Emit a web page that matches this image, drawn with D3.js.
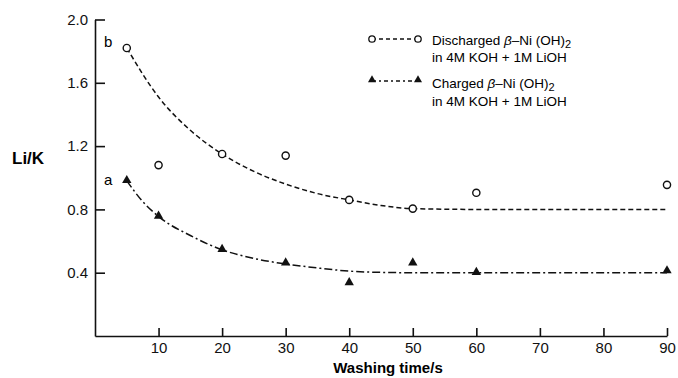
<!DOCTYPE html>
<html>
<head>
<meta charset="utf-8">
<script src="https://cdn.jsdelivr.net/npm/d3@7"></script>
<style>
    body { margin: 0; background: #fff; }
    svg { display: block; font-family: "Liberation Sans", Arial, sans-serif; }
    .axis path, .axis line { stroke: #111; stroke-width: 1.6; }
    .axis text { font-size: 15px; fill: #111; }
</style>
</head>
<body>
<script>
// washing time (s)
const times = [5, 10, 20, 30, 40, 50, 60, 90];
// Li/K ratios
const discharged = [1.82, 1.08, 1.15, 1.14, 0.86, 0.805, 0.905, 0.955];
const charged = [0.98, 0.755, 0.545, 0.46, 0.335, 0.46, 0.40, 0.41];

// hand-drawn fitted curves
const fitTimesB = [5, 10, 15, 20, 25, 30, 35, 40, 45, 50, 60, 90];
const fitB = [1.82, 1.51, 1.30, 1.15, 1.04, 0.96, 0.90, 0.86, 0.825, 0.805, 0.80, 0.80];
const fitTimesA = [5, 7.5, 10, 15, 20, 25, 30, 35, 40, 45, 50, 60, 90];
const fitA = [0.98, 0.85, 0.755, 0.635, 0.545, 0.49, 0.455, 0.43, 0.41, 0.402, 0.40, 0.40, 0.40];

const xTicks = [10, 20, 30, 40, 50, 60, 70, 80, 90];
const yTicks = [0.4, 0.8, 1.2, 1.6, 2.0];

const width = 678, height = 378;

const svg = d3.select('body')
    .append('svg')
    .attr('width', width)
    .attr('height', height);

const x = d3.scaleLinear().domain([0, 90]).range([95, 667]);
const y = d3.scaleLinear().domain([0, 2]).range([336, 19.5]);

// axes
svg.append('g')
    .attr('class', 'axis')
    .attr('transform', `translate(0,${y(0)})`)
    .call(d3.axisBottom(x).tickValues(xTicks).tickFormat(d3.format('d'))
        .tickSizeInner(-8).tickSizeOuter(0).tickPadding(6));

svg.append('g')
    .attr('class', 'axis')
    .attr('transform', `translate(${x(0)},0)`)
    .call(d3.axisLeft(y).tickValues(yTicks).tickFormat(d3.format('.1f'))
        .tickSizeInner(-10).tickSizeOuter(0).tickPadding(7));

// fitted curves
const line = d3.line()
    .x(d => x(d[0]))
    .y(d => y(d[1]))
    .curve(d3.curveMonotoneX);

svg.append('path')
    .attr('d', line(d3.zip(fitTimesB, fitB)))
    .attr('fill', 'none')
    .attr('stroke', '#111')
    .attr('stroke-width', 1.5)
    .attr('stroke-dasharray', '5,3');

svg.append('path')
    .attr('d', line(d3.zip(fitTimesA, fitA)))
    .attr('fill', 'none')
    .attr('stroke', '#111')
    .attr('stroke-width', 1.5)
    .attr('stroke-dasharray', '8,3,2,3');

// markers
const tri = d3.symbol().type(d3.symbolTriangle).size(38);

svg.append('g').selectAll('circle')
    .data(d3.zip(times, discharged))
    .enter().append('circle')
    .attr('cx', d => x(d[0]))
    .attr('cy', d => y(d[1]))
    .attr('r', 3.6)
    .attr('fill', '#fff')
    .attr('stroke', '#111')
    .attr('stroke-width', 1.4);

svg.append('g').selectAll('path')
    .data(d3.zip(times, charged))
    .enter().append('path')
    .attr('d', tri)
    .attr('transform', d => `translate(${x(d[0])},${y(d[1]) - 0.5})`)
    .attr('fill', '#111');

// curve labels
svg.append('text').attr('x', 104).attr('y', 47)
    .style('font-size', '15px').text('b');
svg.append('text').attr('x', 104).attr('y', 185)
    .style('font-size', '15px').text('a');

// axis titles
svg.append('text')
    .attr('x', 12).attr('y', 164)
    .style('font-size', '17px').style('font-weight', 'bold')
    .text('Li/K');

svg.append('text')
    .attr('x', 388).attr('y', 373)
    .attr('text-anchor', 'middle')
    .style('font-size', '15px').style('font-weight', 'bold')
    .text('Washing time/s');

// legend
const legend = svg.append('g').style('font-size', '13.5px');

legend.append('line')
    .attr('x1', 372).attr('x2', 418).attr('y1', 39).attr('y2', 39)
    .attr('stroke', '#111').attr('stroke-width', 1.4)
    .attr('stroke-dasharray', '4,3');
[372, 418].forEach(cx => legend.append('circle')
    .attr('cx', cx).attr('cy', 39).attr('r', 3.2)
    .attr('fill', '#fff').attr('stroke', '#111').attr('stroke-width', 1.3));

legend.append('line')
    .attr('x1', 372).attr('x2', 418).attr('y1', 81).attr('y2', 81)
    .attr('stroke', '#111').attr('stroke-width', 1.4)
    .attr('stroke-dasharray', '4,3,2,3');
[372, 418].forEach(cx => legend.append('path')
    .attr('d', d3.symbol().type(d3.symbolTriangle).size(28))
    .attr('transform', `translate(${cx},80)`)
    .attr('fill', '#111'));

function legendText(yPos, label) {
    const t = legend.append('text').attr('x', 432).attr('y', yPos);
    t.append('tspan').text(label + ' ');
    t.append('tspan').style('font-style', 'italic').text('β');
    t.append('tspan').text('–Ni (OH)');
    t.append('tspan').attr('dy', 3).style('font-size', '11px').text('2');
}
legendText(45, 'Discharged');
legend.append('text').attr('x', 432).attr('y', 62).text('in 4M KOH + 1M LiOH');
legendText(88, 'Charged');
legend.append('text').attr('x', 432).attr('y', 106).text('in 4M KOH + 1M LiOH');
</script>
</body>
</html>
